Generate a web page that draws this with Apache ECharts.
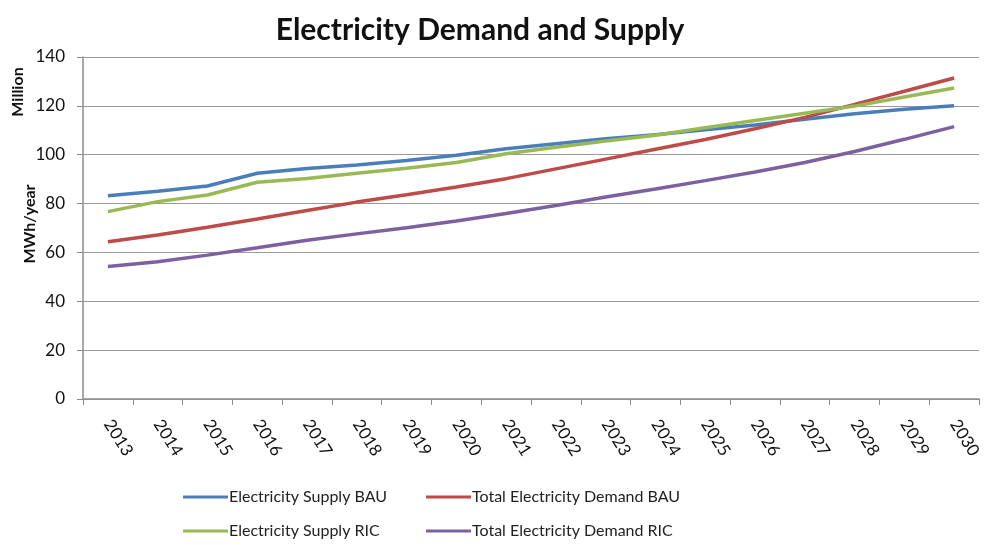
<!DOCTYPE html>
<html>
<head>
<meta charset="utf-8">
<script src="https://cdn.jsdelivr.net/npm/echarts@6/dist/echarts.min.js"></script>
<style>
  html, body { margin: 0; padding: 0; background: #fff; }
  #chart { width: 989px; height: 545px; }
</style>
</head>
<body>
<div id="chart"></div>
<script>
// Years on the category axis
const years = ['2013','2014','2015','2016','2017','2018','2019','2020','2021','2022','2023','2024','2025','2026','2027','2028','2029','2030'];

// Million MWh/year
const supplyBAU = [83.2, 85.0, 87.2, 92.4, 94.4, 95.8, 97.6, 99.8, 102.4, 104.5, 106.5, 108.2, 110.2, 112.2, 114.5, 116.8, 118.6, 120.0];
const demandBAU = [64.4, 67.1, 70.3, 73.7, 77.2, 80.6, 83.6, 86.8, 90.2, 94.2, 98.2, 102.2, 106.2, 110.6, 115.3, 120.6, 126.0, 131.4];
const supplyRIC = [76.7, 80.8, 83.5, 88.7, 90.3, 92.4, 94.5, 96.8, 100.4, 103.1, 105.6, 108.0, 111.0, 114.0, 117.0, 119.9, 123.6, 127.3];
const demandRIC = [54.2, 56.2, 58.9, 61.9, 65.0, 67.6, 70.1, 72.9, 75.9, 79.2, 82.7, 86.0, 89.4, 92.9, 96.8, 101.3, 106.3, 111.5];

const seriesNames = ['Electricity Supply BAU', 'Total Electricity Demand BAU', 'Electricity Supply RIC', 'Total Electricity Demand RIC'];
const seriesData = [supplyBAU, demandBAU, supplyRIC, demandRIC];
const seriesColors = ['#4a7ebb', '#be4b48', '#98b954', '#7d60a0'];

const FONT = 'Lato, "Open Sans", sans-serif';
const chart = echarts.init(document.getElementById('chart'));

const legendPos = [
  { left: 183, top: 489 },
  { left: 426, top: 489 },
  { left: 183, top: 523 },
  { left: 426, top: 523 }
];

chart.setOption({
  animation: false,
  backgroundColor: '#ffffff',
  title: {
    text: 'Electricity Demand and Supply',
    left: 475,
    top: 10,
    textAlign: 'center',
    textStyle: { fontFamily: FONT, fontSize: 30, fontWeight: 'bold', color: '#111' }
  },
  legend: seriesNames.map((n, i) => ({
    data: [n],
    left: legendPos[i].left,
    top: legendPos[i].top,
    padding: 0,
    icon: 'rect',
    itemWidth: 45,
    itemHeight: 3,
    textStyle: { fontFamily: FONT, fontSize: 16, color: '#222', padding: [0, 0, 0, -4] }
  })),
  grid: { left: 83, right: 10, top: 57, bottom: 146, containLabel: false },
  xAxis: {
    type: 'category',
    data: years,
    boundaryGap: true,
    axisLine: { lineStyle: { color: '#8c8c8c', width: 1.5 } },
    axisTick: { show: true, length: 6, lineStyle: { color: '#8c8c8c' } },
    axisLabel: {
      rotate: -58,
      interval: 0,
      margin: 22,
      fontFamily: FONT,
      fontSize: 17,
      color: '#111'
    }
  },
  yAxis: {
    type: 'value',
    min: 0,
    max: 140,
    interval: 20,
    axisLine: { show: true, lineStyle: { color: '#8c8c8c', width: 1.5 } },
    axisTick: { show: true, length: 6, lineStyle: { color: '#8c8c8c' } },
    axisLabel: { fontFamily: FONT, fontSize: 17, color: '#111', margin: 18 },
    splitLine: { lineStyle: { color: '#9a9a9a', width: 1.2 } }
  },
  graphic: [
    {
      type: 'text',
      x: 18, y: 92,
      rotation: Math.PI / 2,
      style: { text: 'Million', fontFamily: FONT, fontSize: 16, fontWeight: 'bold', fill: '#111', align: 'center', verticalAlign: 'middle' }
    },
    {
      type: 'text',
      x: 30, y: 224,
      rotation: Math.PI / 2,
      style: { text: 'MWh/year', fontFamily: FONT, fontSize: 16, fontWeight: 'bold', fill: '#111', align: 'center', verticalAlign: 'middle' }
    }
  ],
  series: seriesNames.map((n, i) => ({
    name: n,
    type: 'line',
    data: seriesData[i],
    showSymbol: false,
    symbol: 'none',
    lineStyle: { color: seriesColors[i], width: 3.5 },
    itemStyle: { color: seriesColors[i] }
  }))
});
</script>
</body>
</html>
